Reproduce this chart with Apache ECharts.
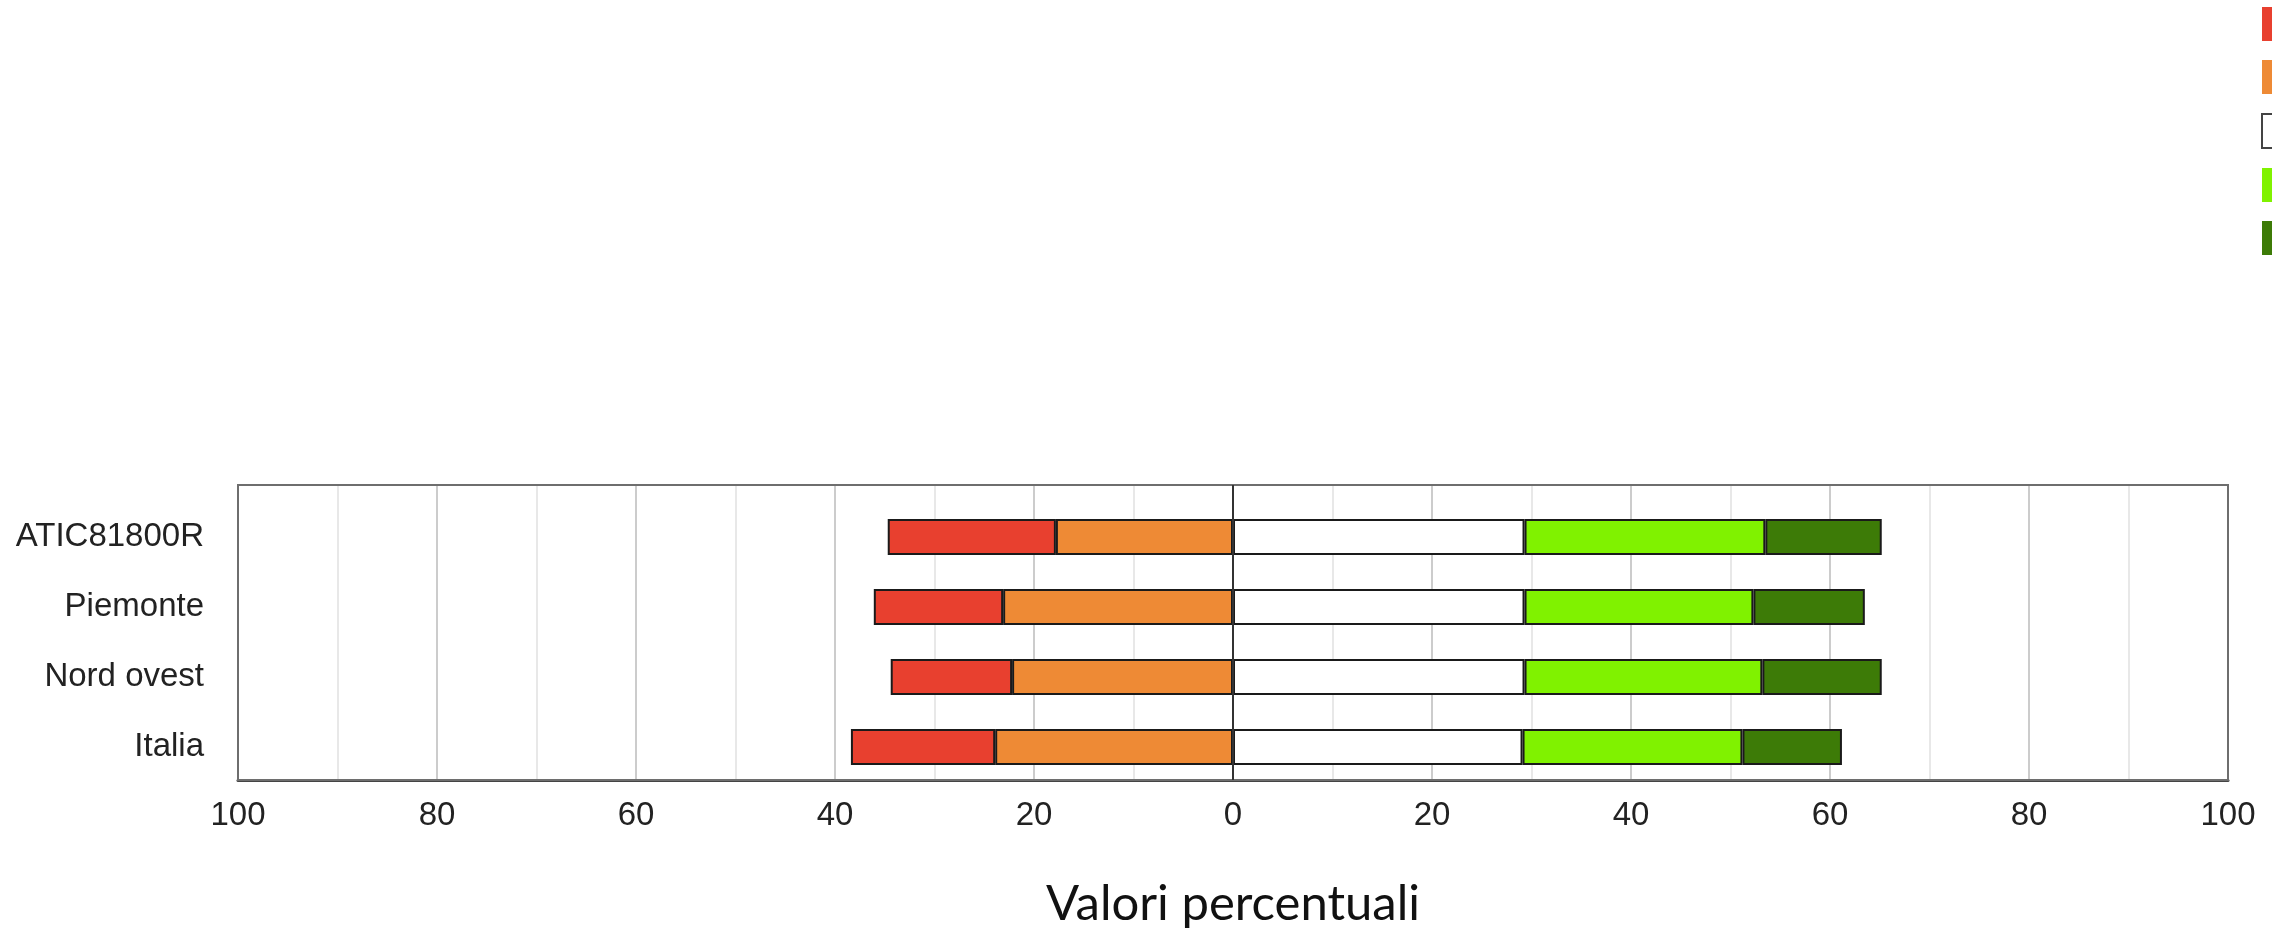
<!DOCTYPE html>
<html>
<head>
<meta charset="utf-8">
<script src="https://cdn.jsdelivr.net/npm/echarts@6/dist/echarts.min.js"></script>
<style>
html,body{margin:0;padding:0;background:#fff;}
#chart{width:2272px;height:930px;}
</style>
</head>
<body>
<div id="chart"></div>
<script>
const categories = ['ATIC81800R', 'Piemonte', 'Nord ovest', 'Italia'];
const seriesNames = ['Livello 1', 'Livello 2', 'Livello 3', 'Livello 4', 'Livello 5'];
const livello1 = [16.9, 13.0, 12.2, 14.5];
const livello2 = [17.8, 23.1, 22.2, 23.9];
const livello3 = [29.3, 29.3, 29.3, 29.1];
const livello4 = [24.2, 23.0, 23.9, 22.1];
const livello5 = [11.7, 11.2, 12.0, 10.0];
const tickValues = [-100, -80, -60, -40, -20, 0, 20, 40, 60, 80, 100];
const xTitle = 'Valori percentuali';

const colors = ['#E8402F', '#EE8A35', '#FFFFFF', '#80F200', '#3D7B07'];

const chart = echarts.init(document.getElementById('chart'), null, {renderer: 'canvas'});

function barSeries(name, data, color, sign) {
  return {
    name: name,
    type: 'bar',
    stack: 'tot',
    xAxisIndex: 0,
    yAxisIndex: 0,
    barWidth: 36,
    data: data.map(v => sign * v),
    itemStyle: {color: color, borderColor: '#1a1a1a', borderWidth: 2},
    emphasis: {disabled: true},
    z: 3
  };
}

const option = {
  animation: false,
  backgroundColor: '#ffffff',
  textStyle: {fontFamily: 'Liberation Sans, Arial, sans-serif'},
  legend: {
    orient: 'vertical',
    left: 2261,
    top: 7,
    padding: 0,
    icon: 'rect',
    itemWidth: 34,
    itemHeight: 34,
    itemGap: 19,
    textStyle: {fontSize: 24, color: '#222'},
    data: seriesNames.map((n, i) => ({
      name: n,
      icon: 'rect',
      itemStyle: i === 2 ? {color: '#ffffff', borderColor: '#444', borderWidth: 2} : {color: colors[i], borderWidth: 0}
    }))
  },
  grid: [
    {left: 238, right: 44, top: 502, bottom: 148, containLabel: false},
    {left: 238, right: 44, top: 485, bottom: 147, containLabel: false, show: true,
     borderColor: '#6e6e6e', borderWidth: 2, backgroundColor: 'transparent', z: 1}
  ],
  xAxis: [
    {
      gridIndex: 0, type: 'value', min: -100, max: 100, interval: 20,
      show: false
    },
    {
      gridIndex: 1, type: 'value', min: -100, max: 100, interval: 20,
      position: 'bottom',
      axisLine: {show: true, onZero: false, lineStyle: {color: '#444', width: 3}},
      axisTick: {show: false},
      axisLabel: {
        fontSize: 33, color: '#222', margin: 19,
        fontFamily: 'Liberation Sans, Arial, sans-serif',
        formatter: v => tickValues.indexOf(v) >= 0 ? String(Math.abs(v)) : ''
      },
      splitLine: {show: true, lineStyle: {color: '#cccccc', width: 2}},
      minorTick: {show: false, splitNumber: 2},
      minorSplitLine: {show: true, lineStyle: {color: '#e8e8e8', width: 2}},
      name: xTitle,
      nameLocation: 'middle',
      nameGap: 100,
      nameTextStyle: {fontSize: 49, color: '#111', fontFamily: 'Lato, Open Sans, sans-serif'}
    }
  ],
  yAxis: [
    {
      gridIndex: 0, type: 'category', data: categories, inverse: true,
      axisLine: {show: false},
      axisTick: {show: false},
      axisLabel: {fontSize: 33, color: '#222', margin: 34, fontFamily: 'Liberation Sans, Arial, sans-serif'},
      splitLine: {show: false}
    },
    {
      gridIndex: 1, type: 'category', data: categories, inverse: true,
      axisLine: {show: false}, axisTick: {show: false}, axisLabel: {show: false},
      splitLine: {show: false}
    }
  ],
  series: [
    barSeries(seriesNames[1], livello2, colors[1], -1),
    barSeries(seriesNames[0], livello1, colors[0], -1),
    barSeries(seriesNames[2], livello3, colors[2], 1),
    barSeries(seriesNames[3], livello4, colors[3], 1),
    barSeries(seriesNames[4], livello5, colors[4], 1),
    {
      name: 'zero', type: 'line', xAxisIndex: 1, yAxisIndex: 1,
      data: [], silent: true,
      markLine: {
        silent: true, symbol: 'none', label: {show: false},
        lineStyle: {color: '#333', width: 2, type: 'solid'},
        data: [{xAxis: 0}]
      },
      z: 4
    }
  ]
};
chart.setOption(option);
</script>
</body>
</html>
